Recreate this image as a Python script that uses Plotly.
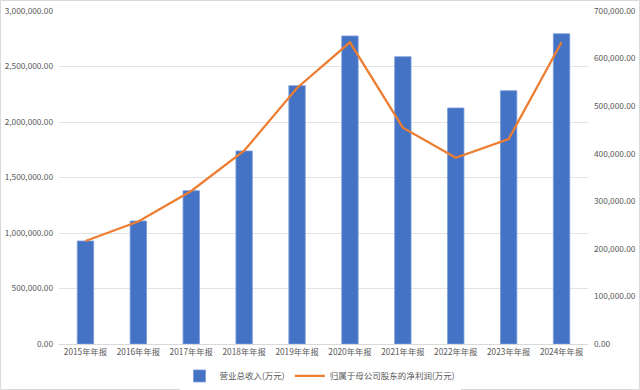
import plotly.graph_objects as go

categories = ["2015年年报", "2016年年报", "2017年年报", "2018年年报", "2019年年报",
              "2020年年报", "2021年年报", "2022年年报", "2023年年报", "2024年年报"]
revenue = [928000, 1108000, 1381000, 1739000, 2327000,
           2775000, 2588000, 2126000, 2282000, 2795000]
net_profit = [216500, 257500, 321600, 406300, 538100,
              634200, 454700, 391600, 431000, 634200]
left_ticks = [0, 500000, 1000000, 1500000, 2000000, 2500000, 3000000]
right_ticks = [0, 100000, 200000, 300000, 400000, 500000, 600000, 700000]

font = "Noto Sans CJK SC"
gray = "#595959"

fig = go.Figure()
fig.add_trace(go.Bar(
    x=categories, y=revenue, name="营业总收入(万元)",
    marker=dict(color="#4472C4", line=dict(color="#7A9CDB", width=0.8)),
    yaxis="y",
))
fig.add_trace(go.Scatter(
    x=categories, y=net_profit, name="归属于母公司股东的净利润(万元)",
    mode="lines", line=dict(color="#ED7D31", width=2.25),
    yaxis="y2",
))

fig.update_layout(
    width=640, height=390,
    margin=dict(l=59, r=52, t=11, b=46, autoexpand=False),
    paper_bgcolor="white", plot_bgcolor="white",
    font=dict(family=font, size=8.3, color=gray),
    bargap=0.69,
    showlegend=True,
    legend=dict(orientation="h", xref="container", yref="container",
                x=0.5, xanchor="center", y=0.036, yanchor="middle",
                font=dict(family=font, size=8.5, color=gray),
                itemwidth=30, traceorder="normal"),
    xaxis=dict(showline=True, linecolor="#D9D9D9", linewidth=1, automargin=False,
               ticks="", tickfont=dict(size=8.3, color=gray), showgrid=False),
    yaxis=dict(range=[0, 3000000], tickvals=left_ticks, tickformat=",.2f",
               showgrid=True, gridcolor="#E3E3E3", gridwidth=1, automargin=False,
               zeroline=False, ticks="", ticklabelstandoff=5,
               tickfont=dict(size=8.3, color=gray)),
    yaxis2=dict(range=[0, 700000], tickvals=right_ticks, tickformat=",.2f",
                overlaying="y", side="right", showgrid=False, zeroline=False,
                ticks="", ticklabelstandoff=5, automargin=False,
                tickfont=dict(size=8.3, color=gray)),
    shapes=[dict(type="rect", xref="paper", yref="paper",
                 x0=-58.5/529, x1=1+51.5/529, y0=-45.5/333, y1=1+10.5/333,
                 line=dict(color="#D9D9D9", width=1), layer="below")],
)

fig.write_html("out.html", config={"displayModeBar": False},
               post_script="document.body.style.margin='0';document.body.style.padding='0';")
